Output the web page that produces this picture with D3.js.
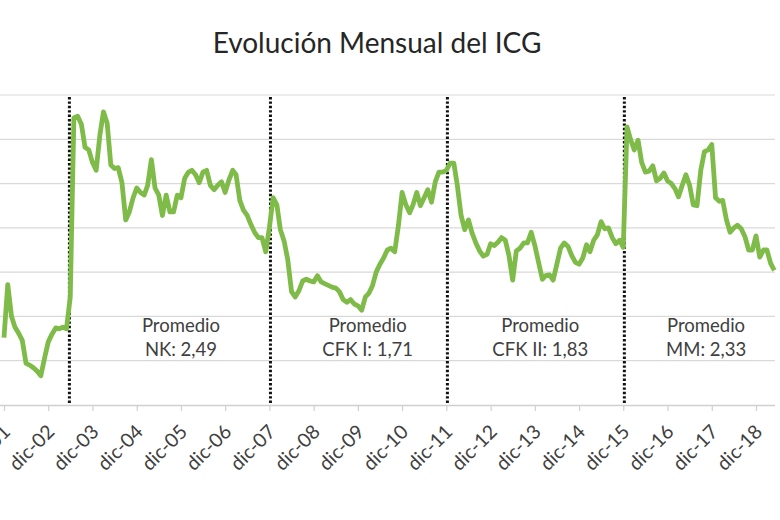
<!DOCTYPE html>
<html>
<head>
<meta charset="utf-8">
<script src="https://cdnjs.cloudflare.com/ajax/libs/d3/7.8.5/d3.min.js"></script>
<style>
  body { margin: 0; background: #fff; }
  svg { display: block; font-family: Lato, "Open Sans", sans-serif; }
</style>
</head>
<body>
<div id="main"></div>
<script>
// monthly ICG values, first one is dic-01
const startMonth = new Date(2001, 11, 1);
const icg = [
    0.76,1.36,1.00,0.88,0.81,0.73,0.47,0.45,0.42,0.38,0.33,0.53,
    0.71,0.80,0.87,0.86,0.88,0.86,1.22,3.24,3.26,3.17,2.91,2.88,
    2.74,2.65,3.05,3.31,3.18,2.71,2.67,2.68,2.51,2.09,2.18,2.34,
    2.45,2.40,2.37,2.48,2.77,2.45,2.37,2.14,2.37,2.18,2.18,2.37,
    2.34,2.56,2.63,2.65,2.60,2.51,2.63,2.65,2.48,2.43,2.48,2.52,
    2.40,2.54,2.65,2.60,2.31,2.20,2.14,2.04,1.95,1.89,1.89,1.73,
    2.00,2.34,2.26,1.98,1.85,1.64,1.28,1.22,1.29,1.40,1.42,1.40,
    1.39,1.46,1.39,1.37,1.35,1.33,1.32,1.28,1.19,1.16,1.19,1.14,
    1.12,1.07,1.22,1.26,1.35,1.50,1.59,1.66,1.75,1.77,1.73,2.03,
    2.40,2.26,2.17,2.26,2.40,2.25,2.34,2.43,2.29,2.52,2.63,2.63,
    2.65,2.73,2.73,2.48,2.14,1.98,2.09,1.94,1.83,1.74,1.68,1.70,
    1.82,1.80,1.84,1.89,1.86,1.69,1.41,1.74,1.77,1.83,1.83,1.95,
    1.80,1.61,1.42,1.46,1.47,1.41,1.59,1.77,1.83,1.79,1.69,1.61,
    1.59,1.66,1.81,1.73,1.86,1.92,2.07,1.99,2.00,1.89,1.82,1.86,
    1.78,3.14,2.99,2.88,2.99,2.74,2.63,2.64,2.70,2.53,2.56,2.62,
    2.53,2.50,2.44,2.35,2.48,2.60,2.48,2.26,2.25,2.65,2.86,2.88,
    2.94,2.34,2.30,2.31,2.09,1.95,2.00,2.03,1.99,1.90,1.75,1.75,
    1.91,1.67,1.75,1.75,1.60,1.52
];

const tickYears = [2001,2002,2003,2004,2005,2006,2007,2008,2009,2010,
    2011,2012,2013,2014,2015,2016,2017,2018];
const tickLabels = ["dic-01","dic-02","dic-03","dic-04","dic-05","dic-06","dic-07","dic-08","dic-09",
    "dic-10","dic-11","dic-12","dic-13","dic-14","dic-15","dic-16","dic-17","dic-18"];
const gridValues = [0.5,1,1.5,2,2.5,3,3.5];

// cambios de gobierno
const changeDates = [new Date(2003,4,25), new Date(2007,11,10), new Date(2011,11,10), new Date(2015,11,10)];
// promedios por gobierno
const avgNames = ["NK: 2,49","CFK I: 1,71","CFK II: 1,83","MM: 2,33"];
const avgDates = [new Date(2005,11,1), new Date(2010,1,20), new Date(2014,0,15), new Date(2017,9,15)];
const avgLabelValue = 0.82;

const w = 780;
const h = 520;

const data = icg.map((v,i)=>({date: d3.timeMonth.offset(startMonth,i), value: v}));

const svg = d3.select("#main").append("svg").attr("width",w).attr("height",h);

const xScale = d3.scaleTime()
    .domain([new Date(2001,11,1), new Date(2018,11,1)])
    .range([4, 756]);

const yScale = d3.scaleLinear()
    .domain([0,3.5])
    .range([405, 95]);

// title
svg.append("text")
    .attr("x",377)
    .attr("y",53)
    .attr("text-anchor","middle")
    .style("font-size","28px")
    .style("fill","#262626")
    .text("Evolución Mensual del ICG");

// gridlines
svg.append("g")
    .attr("class","grid")
    .selectAll("line")
    .data(gridValues)
    .enter()
    .append("line")
    .attr("x1",0)
    .attr("x2",775)
    .attr("y1",d=>yScale(d))
    .attr("y2",d=>yScale(d))
    .style("stroke","#d9d9d9")
    .style("stroke-width",1.2);

//x axis
const tickDates = tickYears.map(y=>new Date(y,11,1));
const xAxis = d3.axisBottom(xScale)
    .tickValues(tickDates)
    .tickSize(6)
    .tickFormat((d,i)=>tickLabels[i]);

const gx = svg.append("g")
    .attr("id","x-axis")
    .attr("transform","translate(0,"+yScale(0)+")")
    .call(xAxis);

gx.select(".domain").attr("d","M0,0.5H775").style("stroke","#d0d0d0").style("stroke-width",1.5);
gx.selectAll(".tick line").style("stroke","#d0d0d0").style("stroke-width",1.2);
gx.selectAll(".tick text")
    .attr("text-anchor","end")
    .attr("x",0).attr("y",0).attr("dy",0)
    .attr("transform","translate(7,28) rotate(-45)")
    .style("font-family","Lato, sans-serif")
    .style("font-size","19.5px")
    .style("fill","#404040");

// vertical dotted lines
svg.append("g")
    .selectAll("line")
    .data(changeDates)
    .enter()
    .append("line")
    .attr("x1",d=>xScale(d))
    .attr("x2",d=>xScale(d))
    .attr("y1",yScale(3.5)+2)
    .attr("y2",yScale(0))
    .style("stroke","#111")
    .style("stroke-width",3)
    .style("stroke-dasharray","2.4,2");

// the line
const line = d3.line()
    .x(d=>xScale(d.date))
    .y(d=>yScale(d.value));

svg.append("path")
    .datum(data)
    .attr("d",line)
    .style("fill","none")
    .style("stroke","#7fbb48")
    .style("stroke-width",4.8)
    .style("stroke-linejoin","round");

// promedio labels
const ann = svg.append("g")
    .selectAll("text")
    .data(avgNames)
    .enter()
    .append("text")
    .attr("x",(d,i)=>xScale(avgDates[i]))
    .attr("y",yScale(avgLabelValue))
    .attr("text-anchor","middle")
    .style("font-size","18.5px")
    .style("fill","#404040");

ann.append("tspan").text("Promedio");
ann.append("tspan")
    .attr("x",(d,i)=>xScale(avgDates[i]))
    .attr("dy",24)
    .text(d=>d);

</script>
</body>
</html>
